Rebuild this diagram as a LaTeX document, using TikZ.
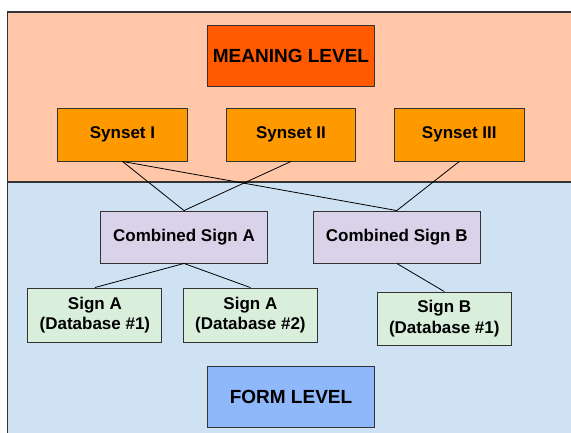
\documentclass[tikz,border=0pt]{standalone}
\usepackage{fontspec}
\setmainfont{Liberation Sans}
\definecolor{peach}{HTML}{FFC7A7}
\definecolor{lightblue}{HTML}{CFE2F3}
\definecolor{meaningc}{HTML}{FF5A00}
\definecolor{synsetc}{HTML}{FF9900}
\definecolor{combc}{HTML}{D9D2E9}
\definecolor{signc}{HTML}{D9EFDB}
\definecolor{formc}{HTML}{8FB8FA}
\definecolor{edgec}{HTML}{333333}
\begin{document}
\begin{tikzpicture}[x=1pt,y=-1pt,
  box/.style={draw=edgec, line width=0.9pt, rectangle, inner sep=0pt, align=center, font=\bfseries\fontsize{17}{20.5}\selectfont},
  bigbox/.style={box, minimum width=167pt, minimum height=61pt, font=\bfseries\fontsize{19}{22}\selectfont},
  synbox/.style={box, fill=synsetc, minimum width=129.5pt, minimum height=53pt},
  combbox/.style={box, fill=combc, minimum width=167pt, minimum height=52pt},
  signbox/.style={box, fill=signc, minimum width=134pt, minimum height=54pt},
  link/.style={draw=black, line width=0.8pt}]
\useasboundingbox (0,0) rectangle (571,432);
\fill[white] (0,0) rectangle (571,432);
% regions
\fill[peach] (7.6,12) rectangle (575,182);
\fill[lightblue] (7.6,182) rectangle (575,436);
\draw[edgec, line width=1.6pt] (575,12) -- (7.6,12) -- (7.6,436);
\draw[edgec, line width=1.2pt] (7.6,182) -- (575,182);
% nodes
\node[bigbox, fill=meaningc] (meaning) at (291,55.5) {MEANING LEVEL};
\node[synbox] (s1) at (122.5,134.5) {Synset I};
\node[synbox] (s2) at (291,134.5) {Synset II};
\node[synbox] (s3) at (459.3,134.5) {Synset III};
\node[combbox] (ca) at (184,237) {Combined Sign A};
\node[combbox] (cb) at (396.8,237) {Combined Sign B};
\node[signbox] (a1) at (94.9,315) {Sign A\\(Database \#1)};
\node[signbox] (a2) at (250.4,315) {Sign A\\(Database \#2)};
\node[signbox, minimum height=53pt] (b1) at (444.3,318.5) {Sign B\\(Database \#1)};
\node[bigbox, fill=formc] (form) at (291,397) {FORM LEVEL};
% links
\draw[link] (s1.south) -- (ca.north);
\draw[link] (s1.south) -- (cb.north);
\draw[link] (s2.south) -- (ca.north);
\draw[link] (s3.south) -- (cb.north);
\draw[link] (ca.south) -- (a1.north);
\draw[link] (ca.south) -- (a2.north);
\draw[link] (cb.south) -- (b1.north);
\end{tikzpicture}
\end{document}
